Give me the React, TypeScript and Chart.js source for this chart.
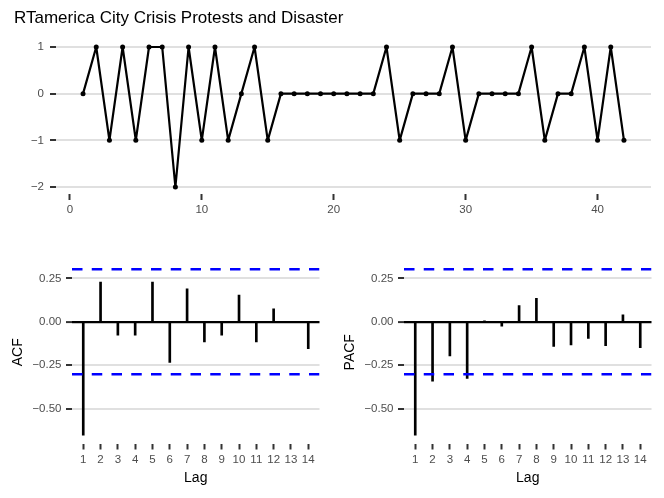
import { useEffect, useRef } from "react"
import { Chart, registerables } from "chart.js"

Chart.register(...registerables)

// Series (time index is 1..n)
const seriesValues = [
  0, 1, -1, 1, -1, 1, 1, -2, 1, -1, 1, -1, 0, 1, -1, 0, 0, 0, 0, 0, 0,
  0, 0, 1, -1, 0, 0, 0, 1, -1, 0, 0, 0, 0, 1, -1, 0, 0, 1, -1, 1, -1,
]
const lags = [1, 2, 3, 4, 5, 6, 7, 8, 9, 10, 11, 12, 13, 14]
const acfValues = [
  -0.652, 0.229, -0.077, -0.077, 0.229, -0.233, 0.19, -0.115, -0.077, 0.154, -0.115, 0.075, 0.0, -0.154,
]
const pacfValues = [
  -0.652, -0.342, -0.196, -0.325, 0.004, -0.025, 0.094, 0.135, -0.142, -0.133, -0.096, -0.137, 0.04, -0.148,
]
const ciBound = 0.302

const topXTicks = [0, 10, 20, 30, 40]
const topYTicks = [-2, -1, 0, 1]
const corrYTicks = [-0.5, -0.25, 0, 0.25]

// axis limits (ggplot-style 5% expansion)
const topXMin = -1.05
const topXMax = 44.05
const topYMin = -2.15
const topYMax = 1.15
const lagMin = 0.35
const lagMax = 14.65
const corrYMin = -0.7
const corrYMax = 0.35

const FONT = "'Liberation Sans', Arial, Helvetica, sans-serif"
const GRID = "#e0e0e0"
const TICK = "#333333"
const LABEL = "#4d4d4d"
const TICK_FONT = { family: FONT, size: 11.5 }

const fmt = (v: number, digits: number) => (v < 0 ? "\u2212" : "") + Math.abs(v).toFixed(digits)

function TopChart() {
  const chartRef = useRef<HTMLCanvasElement>(null)
  const chartInstance = useRef<Chart | null>(null)

  useEffect(() => {
    if (!chartRef.current) return
    if (chartInstance.current) chartInstance.current.destroy()
    const ctx = chartRef.current.getContext("2d")
    if (!ctx) return

    chartInstance.current = new Chart(ctx, {
      type: "line",
      data: {
        datasets: [
          {
            data: seriesValues.map((v, i) => ({ x: i + 1, y: v })),
            borderColor: "#000",
            borderWidth: 2.2,
            borderJoinStyle: "round",
            borderCapStyle: "round",
            pointRadius: 2.5,
            pointBackgroundColor: "#000",
            pointBorderWidth: 0,
            tension: 0,
          },
        ],
      },
      options: {
        animation: false,
        responsive: true,
        maintainAspectRatio: false,
        layout: { padding: { left: 14, right: 13, top: 0, bottom: 0 } },
        plugins: {
          legend: { display: false },
          tooltip: { enabled: false },
          title: {
            display: true,
            text: "RTamerica City Crisis Protests and Disaster",
            align: "start",
            color: "#000",
            font: { family: FONT, size: 17, weight: "normal", lineHeight: 1.2 },
            padding: { top: 8, bottom: 11.6 },
          },
        },
        scales: {
          x: {
            type: "linear",
            min: topXMin,
            max: topXMax,
            afterBuildTicks: (s: any) => {
              s.ticks = topXTicks.map((value) => ({ value }))
            },
            afterFit: (s: any) => {
              s.height = 31
            },
            border: { display: false },
            grid: { drawOnChartArea: false, drawTicks: true, tickLength: 6, tickColor: TICK, tickWidth: 2 },
            ticks: { color: LABEL, font: TICK_FONT, padding: 3, maxRotation: 0 },
          },
          y: {
            min: topYMin,
            max: topYMax,
            afterBuildTicks: (s: any) => {
              s.ticks = topYTicks.map((value) => ({ value }))
            },
            afterFit: (s: any) => {
              s.width = 42
            },
            border: { display: false },
            grid: { color: GRID, lineWidth: 2, tickLength: 6, tickColor: TICK, tickWidth: 2 },
            ticks: { color: LABEL, font: TICK_FONT, padding: 6, callback: (v: any) => fmt(Number(v), 0) },
          },
        },
      },
    })

    return () => {
      if (chartInstance.current) chartInstance.current.destroy()
    }
  }, [])

  return (
    <div style={{ position: "absolute", left: 0, top: 0, width: 664, height: 225 }}>
      <canvas ref={chartRef} />
    </div>
  )
}

function CorrChart({ label, values, left }: { label: string; values: number[]; left: number }) {
  const chartRef = useRef<HTMLCanvasElement>(null)
  const chartInstance = useRef<Chart | null>(null)

  useEffect(() => {
    if (!chartRef.current) return
    if (chartInstance.current) chartInstance.current.destroy()
    const ctx = chartRef.current.getContext("2d")
    if (!ctx) return

    const dashed = (y: number) => ({
      type: "line" as const,
      data: [
        { x: lagMin, y },
        { x: lagMax, y },
      ],
      borderColor: "#0000ff",
      borderWidth: 2.5,
      borderDash: [10.5, 9.25],
      pointRadius: 0,
      order: 0,
    })

    chartInstance.current = new Chart(ctx, {
      type: "bar",
      data: {
        datasets: [
          {
            type: "bar",
            data: lags.map((lag, i) => ({ x: lag, y: values[i] })),
            backgroundColor: "#000",
            borderWidth: 0,
            barThickness: 2,
            order: 1,
          },
          dashed(ciBound),
          dashed(-ciBound),
        ] as any,
      },
      options: {
        animation: false,
        responsive: true,
        maintainAspectRatio: false,
        layout: { padding: { left: 0, right: 12.5, top: 31, bottom: 0 } },
        plugins: {
          legend: { display: false },
          tooltip: { enabled: false },
        },
        scales: {
          x: {
            type: "linear",
            min: lagMin,
            max: lagMax,
            offset: false,
            afterBuildTicks: (s: any) => {
              s.ticks = lags.map((value) => ({ value }))
            },
            afterFit: (s: any) => {
              s.height = 54.5
            },
            border: { display: false },
            grid: { offset: false, drawOnChartArea: false, drawTicks: true, tickLength: 6, tickColor: TICK, tickWidth: 2 },
            ticks: { color: LABEL, font: TICK_FONT, padding: 3, maxRotation: 0, autoSkip: false },
            title: {
              display: true,
              text: "Lag",
              color: "#000",
              font: { family: FONT, size: 14, lineHeight: 1.2 },
              padding: { top: 0, bottom: 11.6 },
            },
          },
          y: {
            min: corrYMin,
            max: corrYMax,
            afterBuildTicks: (s: any) => {
              s.ticks = corrYTicks.map((value) => ({ value }))
            },
            afterFit: (s: any) => {
              s.width = 72
            },
            border: { display: false },
            grid: {
              color: (c: any) => (c.tick && c.tick.value === 0 ? "#000" : GRID),
              lineWidth: (c: any) => (c.tick && c.tick.value === 0 ? 2.2 : 2),
              tickLength: 6,
              tickColor: TICK,
              tickWidth: 2,
            },
            ticks: { color: LABEL, font: TICK_FONT, padding: 4.5, callback: (v: any) => fmt(Number(v), 2) },
            title: {
              display: true,
              text: label,
              color: "#000",
              font: { family: FONT, size: 14, lineHeight: 1.2 },
              padding: { top: 9.6, bottom: 0 },
            },
          },
        },
      },
    })

    return () => {
      if (chartInstance.current) chartInstance.current.destroy()
    }
  }, [label, values])

  return (
    <div style={{ position: "absolute", left, top: 230, width: 332, height: 268 }}>
      <canvas ref={chartRef} />
    </div>
  )
}

export default function App() {
  return (
    <div style={{ position: "absolute", left: 0, top: 0, width: 664, height: 498, background: "#fff" }}>
      <TopChart />
      <CorrChart label="ACF" values={acfValues} left={0} />
      <CorrChart label="PACF" values={pacfValues} left={332} />
    </div>
  )
}
